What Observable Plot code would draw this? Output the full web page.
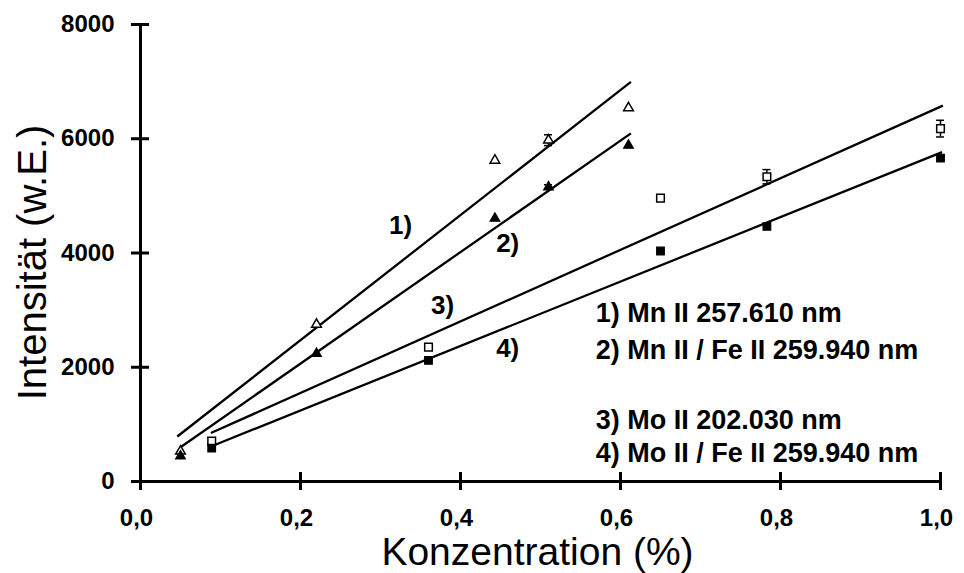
<!DOCTYPE html>
<html><head><meta charset="utf-8">
<script src="https://cdn.jsdelivr.net/npm/d3@7"></script>
<script src="https://cdn.jsdelivr.net/npm/@observablehq/plot@0.6"></script>
<style>body{margin:0;background:#fff} svg{display:block}</style>
</head><body><div id="chart"></div>
<script>
const xTicks = [0, 0.2, 0.4, 0.6, 0.8, 1.0];
const yTicks = [0, 2000, 4000, 6000, 8000];
const conc12 = [0.05, 0.22, 0.443, 0.51, 0.61];
const mnII = [530, 2750, 5622, 5975, 6540];
const mnFe = [445, 2240, 4605, 5155, 5884];
const conc34 = [0.089, 0.36, 0.65, 0.783, 1.0];
const moII = [706, 2352, 4960, 5335, 6177];
const moFe = [585, 2120, 4035, 4466, 5662];
const errMnII = [0, 0, 0, 95, 0];
const errMnFe = [0, 0, 0, 40, 0];
const errMoII = [60, 0, 0, 125, 146];
const errMoFe = [0, 0, 0, 0, 0];
const fitLabels = ["1)", "2)", "3)", "4)"];
const fitX1 = [0.046, 0.05, 0.088, 0.092];
const fitY1 = [788, 600, 848, 635];
const fitX2 = [0.613, 0.613, 1.003, 1.002];
const fitY2 = [6996, 6095, 6580, 5767];
const labelX = [0.325, 0.459, 0.3775, 0.459];
const labelY = [4483, 4167, 3082, 2329];
const legendLines = ["1) Mn II 257.610 nm", "2) Mn II / Fe II 259.940 nm", "3) Mo II 202.030 nm", "4) Mo II / Fe II 259.940 nm"];
const legendY = [2942, 2294, 1068, 490];
const legendX = 0.569;
const xTitle = "Konzentration (%)";
const yTitle = "Intensität (w.E.)";

const mk = (xs, ys, es) => xs.map((x, i) => ({x, y: ys[i], e: es[i]}));
const s1 = mk(conc12, mnII, errMnII);
const s2 = mk(conc12, mnFe, errMnFe);
const s3 = mk(conc34, moII, errMoII);
const s4 = mk(conc34, moFe, errMoFe);
const errs = [...s1, ...s2, ...s3, ...s4].filter(d => d.e > 0);
const fits = fitLabels.map((l, i) => ({l, x1: fitX1[i], y1: fitY1[i], x2: fitX2[i], y2: fitY2[i], lx: labelX[i], ly: labelY[i]}));
const legend = legendLines.map((t, i) => ({t, y: legendY[i]}));

const bold = {fontWeight: "bold", fill: "black"};
const chart = Plot.plot({
  width: 964, height: 573,
  marginLeft: 140, marginRight: 24, marginTop: 24, marginBottom: 92,
  style: {fontFamily: "'Liberation Sans', Arial, sans-serif", background: "white", color: "black"},
  x: {domain: [0, 1]},
  y: {domain: [0, 8000]},
  marks: [
    Plot.ruleX([0], {strokeWidth: 3}),
    Plot.ruleY([0], {strokeWidth: 3}),
    Plot.ruleY(yTicks, {y: d => d, x1: () => 0, x2: () => 0, insetLeft: -9, insetRight: -9, strokeWidth: 3}),
    Plot.ruleX(xTicks, {x: d => d, y1: () => 0, y2: () => 0, insetTop: -9, insetBottom: -9, strokeWidth: 3}),
    Plot.axisY(yTicks, {tickSize: 0, tickPadding: 26, fontSize: 24, fontWeight: "bold", tickFormat: d => String(d), label: null}),
    Plot.axisX(xTicks, {tickSize: 0, tickPadding: 27, dx: -4, fontSize: 24, fontWeight: "bold", tickFormat: d => d.toFixed(1).replace(".", ","), label: null}),
    Plot.link(fits, {x1: "x1", y1: "y1", x2: "x2", y2: "y2", stroke: "black", strokeWidth: 2.3}),
    Plot.ruleX(errs, {x: "x", y1: d => d.y - d.e, y2: d => d.y + d.e, strokeWidth: 1.5}),
    Plot.ruleY(errs, {y: d => d.y + d.e, x1: "x", x2: "x", insetLeft: -4, insetRight: -4, strokeWidth: 1.5}),
    Plot.ruleY(errs, {y: d => d.y - d.e, x1: "x", x2: "x", insetLeft: -4, insetRight: -4, strokeWidth: 1.5}),
    Plot.dot(s1, {x: "x", y: "y", symbol: "triangle", r: 3.6, fill: "white", stroke: "black", strokeWidth: 1.5}),
    Plot.dot(s2, {x: "x", y: "y", symbol: "triangle", r: 3.6, fill: "black", stroke: "black", strokeWidth: 1.2}),
    Plot.dot(s3, {x: "x", y: "y", symbol: "square", r: 4.3, fill: "white", stroke: "black", strokeWidth: 1.5}),
    Plot.dot(s4, {x: "x", y: "y", symbol: "square", r: 4.3, fill: "black", stroke: "black", strokeWidth: 1.2}),
    Plot.text(fits, {x: "lx", y: "ly", text: "l", fontSize: 26, ...bold}),
    Plot.text(legend, {x: () => legendX, y: "y", text: "t", textAnchor: "start", fontSize: 27, ...bold}),
    Plot.text([yTitle], {frameAnchor: "left", textAnchor: "middle", dx: -107, dy: 9.5, rotate: -90, fontSize: 40, fill: "black"}),
    Plot.text([xTitle], {frameAnchor: "bottom", textAnchor: "middle", dx: -3, dy: 83, fontSize: 39, fill: "black"})
  ]
});
document.getElementById("chart").append(chart);
</script>
</body></html>
